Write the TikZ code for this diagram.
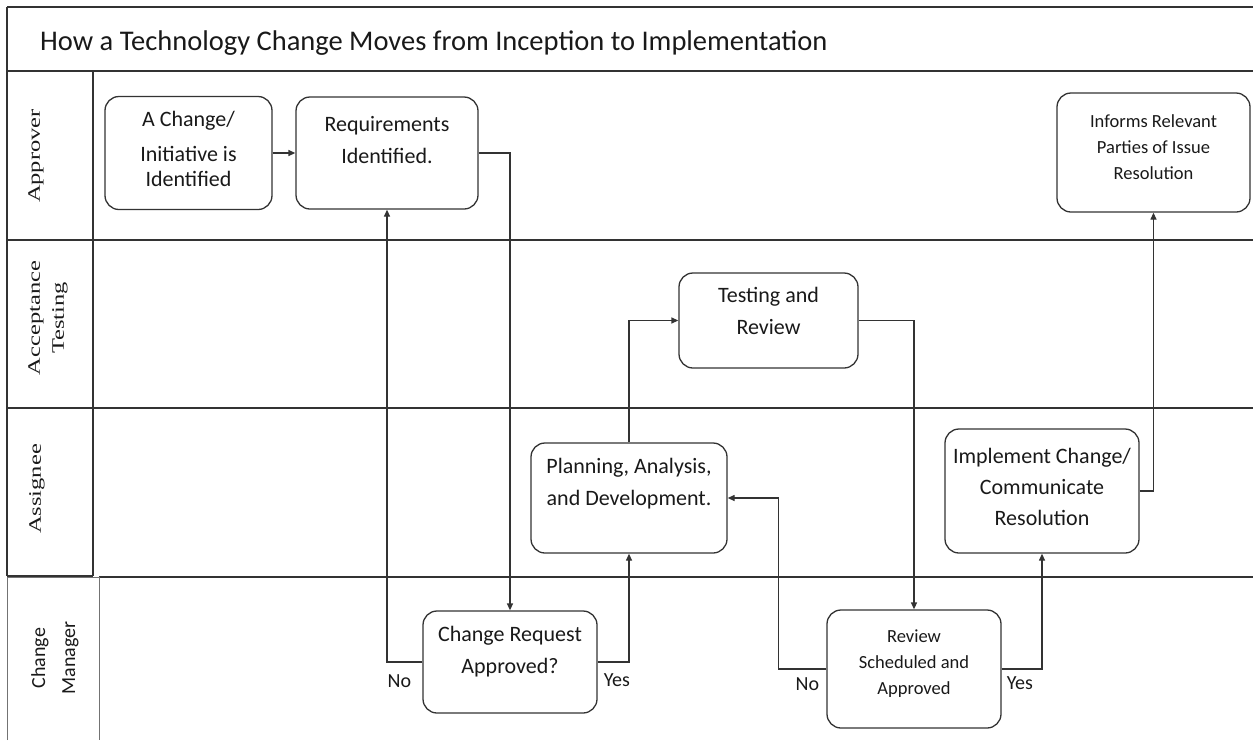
\documentclass[tikz,border=0pt]{standalone}
\usepackage{fontspec}
\usepackage{graphicx}
\setmainfont{Carlito}
\newfontfamily\lanefont{Liberation Serif}
\usetikzlibrary{arrows.meta, positioning}

\newcommand{\lanetxt}[1]{\scalebox{1.4}[1]{#1}}

\tikzset{
  frame/.style={draw=black!80, line width=1.6pt},
  cellline/.style={draw=black!55, line width=0.9pt},
  stepbox/.style={draw=black!80, line width=1.3pt, rounded corners=14pt, inner sep=0pt},
  btext/.style={anchor=base, align=center, inner sep=0pt, text=black!90, font=\fontsize{22}{32}\selectfont},
  stext/.style={btext, font=\fontsize{18.5}{26}\selectfont},
  lbl/.style={inner sep=0pt, text=black!90, font=\fontsize{20}{24}\selectfont},
  lanelbl/.style={rotate=90, align=center, inner sep=0pt, text=black!90, font=\lanefont\fontsize{17.5}{24}\selectfont},
  flow/.style={draw=black!80, line width=1.3pt, -{Triangle[length=7pt, width=6pt]}},
}

\begin{document}
\begin{tikzpicture}[x=1pt, y=-1pt]
    \useasboundingbox (0,0) rectangle (1253,740);

    % lanes
    \draw[frame] (7,7) -- (1253,7);
    \draw[frame] (7,7) -- (7,576);
    \draw[frame] (7,71) -- (1253,71);
    \foreach \y in {240,408}
        \draw[frame] (7,\y) -- (1253,\y);
    \draw[frame] (7,576) -- (93,576);
    \draw[frame] (99,577) -- (1253,577);
    \draw[frame] (93,71) -- (93,576);
    \draw[cellline] (7,740) |- (99,577) -- (99,740);

    \node[anchor=base west, inner sep=0pt, text=black!90, font=\fontsize{28.5}{32}\selectfont] (ttl) at (40,50) {How a Technology Change Moves from Inception to Implementation};

    \node[lanelbl] (lane-apr) at (36,156) {\lanetxt{Approver}};
    \node[lanelbl] (lane-acc) at (48,318) {\lanetxt{Acceptance}\\\lanetxt{Testing}};
    \node[lanelbl] (lane-asg) at (37,489) {\lanetxt{Assignee}};
    \node[lanelbl, font=\fontsize{20}{30}\selectfont] (lane-mgr) at (55,658) {Change\\Manager};

    % steps
    \node[stepbox, minimum width=167pt, minimum height=113pt] (chg) at (188.5,153) {};
    \node[stepbox, minimum width=182pt, minimum height=112pt] (req) at (387,153) {};
    \node[stepbox, minimum width=193pt, minimum height=119pt] (inf) at (1153.5,152.5) {};
    \node[stepbox, minimum width=179pt, minimum height=95pt] (tst) at (768.5,320.5) {};
    \node[stepbox, minimum width=196pt, minimum height=110pt] (pln) at (629,498) {};
    \node[stepbox, minimum width=194pt, minimum height=124pt] (imp) at (1042,491) {};
    \node[stepbox, minimum width=174pt, minimum height=102pt] (crq) at (510,662) {};
    \node[stepbox, minimum width=174pt, minimum height=118pt] (rsa) at (914,669) {};

    % base = last line
    \node[btext, font=\fontsize{22}{25}\selectfont] (chg-t) at ([yshift=-91pt]chg.north) {A Change/\\[10pt]Initiative is\\Identified};
    \node[btext] (req-t) at ([yshift=-67pt]req.north) {Requirements\\Identified.};
    \node[stext] (inf-t) at ([yshift=-87pt]inf.north) {Informs Relevant\\Parties of Issue\\Resolution};
    \node[btext] (tst-t) at ([yshift=-62pt]tst.north) {Testing and\\Review};
    \node[btext] (pln-t) at ([yshift=-63pt]pln.north) {Planning, Analysis,\\and Development.};
    \node[btext, font=\fontsize{22}{31}\selectfont] (imp-t) at ([yshift=-97pt]imp.north) {Implement Change/\\Communicate\\Resolution};
    \node[btext] (crq-t) at ([yshift=-63pt]crq.north) {Change Request\\Approved?};
    \node[stext] (rsa-t) at ([yshift=-85pt]rsa.north) {Review\\Scheduled and\\Approved};

    % flow
    \draw[flow] (chg) -- (req);
    \draw[flow] (req.east) -| (crq.north);
    \draw[flow] (crq.west) -| (req.south);
    \draw[flow] (crq.east) -| (pln.south);
    \draw[flow] (pln.north) |- (tst.west);
    \draw[flow] (tst.east) -| (rsa.north);
    \draw[flow] (rsa.west) -- ++(-48,0) |- (pln.east);
    \draw[flow] (rsa.east) -| (imp.south);
    \draw[flow] (imp.east) -| (inf.south);

    \node[lbl, below left=12pt and 11pt of crq.west] (crq-no) {No};
    \node[lbl, below right=11pt and 6pt of crq.east] (crq-yes) {Yes};
    \node[lbl, below left=8pt and 7pt of rsa.west] (rsa-no) {No};
    \node[lbl, below right=7pt and 5pt of rsa.east] (rsa-yes) {Yes};

\end{tikzpicture}
\end{document}
